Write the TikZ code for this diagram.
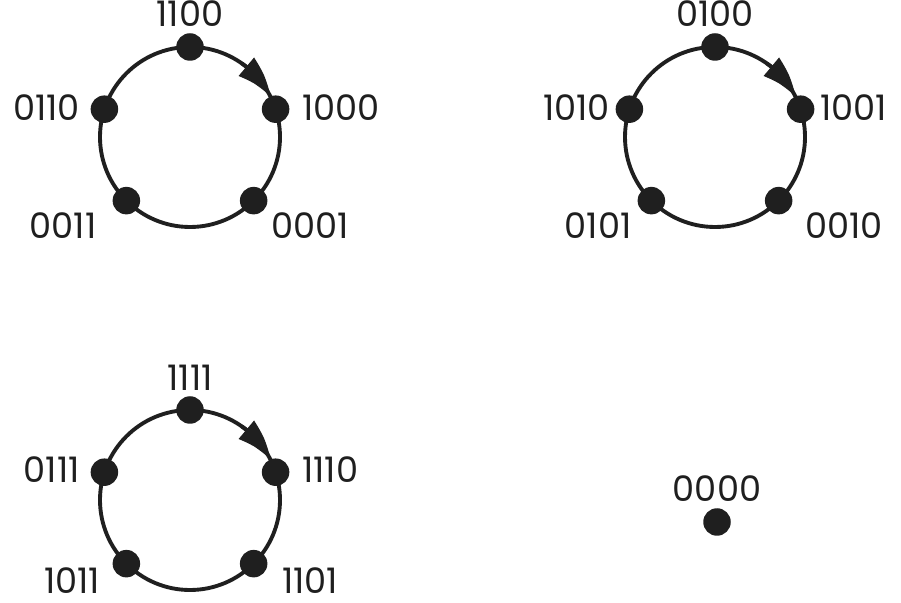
\documentclass[tikz,border=0pt]{standalone}
\usepackage{fontspec}
\setmainfont{Poppins}
\usetikzlibrary{arrows.meta,bending}

\tikzset{
  dot/.style={circle,fill=black!88,inner sep=0pt,minimum size=0.55cm},
  ring/.style={line width=2.2pt,black!88},
  tag/.style={font=\fontsize{20}{24}\selectfont,inner sep=0pt,text=black!88},
  turn/.style={ring,-{Triangle[length=0.78cm,width=0.46cm,bend]}},
}

\begin{document}
\begin{tikzpicture}
    \useasboundingbox (0,0) rectangle (18.02,12.04);
    % ring one
    \coordinate (c1) at (3.8,9.3);
    \draw [ring] (c1) circle (1.8);
    \draw [turn] ([shift={(55:1.8)}]c1) arc (55:26.5:1.8);
    \path (c1) ++(90:1.8)   node [dot] (a1) {};
    \path (c1) ++(18:1.8)   node [dot] (a2) {};
    \path (c1) ++(-45:1.8)  node [dot] (a3) {};
    \path (c1) ++(-135:1.8) node [dot] (a4) {};
    \path (c1) ++(162:1.8)  node [dot] (a5) {};
    \path ( 3.8,  11.76) node [tag] {1100};
    \path ( 6.04,  9.88) node [tag,anchor=west] {1000};
    \path ( 6.2,   7.52) node [tag] {0001};
    \path ( 1.26,  7.52) node [tag] {0011};
    \path ( 1.6,   9.88) node [tag,anchor=east] {0110};
    % ring two
    \coordinate (c2) at (14.3,9.3);
    \draw [ring] (c2) circle (1.8);
    \draw [turn] ([shift={(55:1.8)}]c2) arc (55:26.5:1.8);
    \path (c2) ++(90:1.8)   node [dot] (b1) {};
    \path (c2) ++(18:1.8)   node [dot] (b2) {};
    \path (c2) ++(-45:1.8)  node [dot] (b3) {};
    \path (c2) ++(-135:1.8) node [dot] (b4) {};
    \path (c2) ++(162:1.8)  node [dot] (b5) {};
    \path (14.3,  11.76) node [tag] {0100};
    \path (16.4,   9.88) node [tag,anchor=west] {1001};
    \path (16.88,  7.52) node [tag] {0010};
    \path (11.96,  7.52) node [tag] {0101};
    \path (12.2,   9.88) node [tag,anchor=east] {1010};
    % ring three
    \coordinate (c3) at (3.8,2.04);
    \draw [ring] (c3) circle (1.8);
    \draw [turn] ([shift={(55:1.8)}]c3) arc (55:26.5:1.8);
    \path (c3) ++(90:1.8)   node [dot] (d1) {};
    \path (c3) ++(18:1.8)   node [dot] (d2) {};
    \path (c3) ++(-45:1.8)  node [dot] (d3) {};
    \path (c3) ++(-135:1.8) node [dot] (d4) {};
    \path (c3) ++(162:1.8)  node [dot] (d5) {};
    \path ( 3.8,   4.48) node [tag] {1111};
    \path ( 6.04,  2.64) node [tag,anchor=west] {1110};
    \path ( 6.2,   0.42) node [tag] {1101};
    \path ( 1.44,  0.42) node [tag] {1011};
    \path ( 1.6,   2.64) node [tag,anchor=east] {0111};
    % fixed point
    \path (14.34, 1.6)  node [dot] (zero) {};
    \path (14.34, 2.26) node [tag] {0000};
\end{tikzpicture}
\end{document}
